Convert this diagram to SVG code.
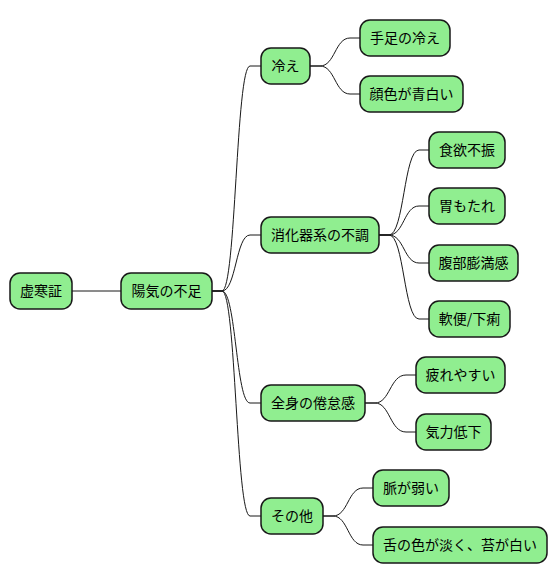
<svg xmlns="http://www.w3.org/2000/svg" width="558" height="583" viewBox="0 0 558 583">
<style>
.n rect{fill:#90EE90;stroke:#181818;stroke-width:1.5}
.n text{font-family:"Noto Sans CJK JP","Noto Sans",sans-serif;font-size:14px;fill:#000;text-anchor:middle}
#edges path{fill:none;stroke:#181818;stroke-width:1}
</style>
<rect width="558" height="583" fill="#fff"/>
<g id="edges">
<path d="M72 291 L121 291"/>
<path d="M212 291 L222 291 C236 291 236 66 250 66 L261 66"/>
<path d="M212 291 L222 291 C236 291 236 235 250 235 L261 235"/>
<path d="M212 291 L222 291 C236 291 236 403 250 403 L261 403"/>
<path d="M212 291 L222 291 C236 291 236 516 250 516 L261 516"/>
<path d="M310 66 L320 66 C335 66 335 38 350 38 L360 38"/>
<path d="M310 66 L320 66 C335 66 335 94 350 94 L360 94"/>
<path d="M379 235 L389 235 C404 235 404 150 419 150 L429 150"/>
<path d="M379 235 L389 235 C404 235 404 206 419 206 L429 206"/>
<path d="M379 235 L389 235 C404 235 404 263 419 263 L429 263"/>
<path d="M379 235 L389 235 C404 235 404 319 419 319 L429 319"/>
<path d="M365 403 L375 403 C390 403 390 375 406 375 L416 375"/>
<path d="M365 403 L375 403 C390 403 390 432 406 432 L416 432"/>
<path d="M323 516 L333 516 C348 516 348 488 363 488 L373 488"/>
<path d="M323 516 L333 516 C348 516 348 545 363 545 L373 545"/>
</g>
<g id="n0" class="n"><rect x="10" y="273" width="62" height="36" rx="10"/><text x="41" y="296">虚寒証</text></g>
<g id="n1" class="n"><rect x="121" y="273" width="91" height="36" rx="10"/><text x="166.5" y="296">陽気の不足</text></g>
<g id="n2" class="n"><rect x="261" y="48" width="49" height="36" rx="10"/><text x="285.5" y="71">冷え</text></g>
<g id="n3" class="n"><rect x="360" y="20" width="90" height="36" rx="10"/><text x="405" y="43">手足の冷え</text></g>
<g id="n4" class="n"><rect x="360" y="76" width="103" height="36" rx="10"/><text x="411.5" y="99">顔色が青白い</text></g>
<g id="n5" class="n"><rect x="261" y="217" width="118" height="36" rx="10"/><text x="320" y="240">消化器系の不調</text></g>
<g id="n6" class="n"><rect x="429" y="132" width="76" height="36" rx="10"/><text x="467" y="155">食欲不振</text></g>
<g id="n7" class="n"><rect x="429" y="188" width="76" height="36" rx="10"/><text x="467" y="211">胃もたれ</text></g>
<g id="n8" class="n"><rect x="429" y="245" width="89" height="36" rx="10"/><text x="473.5" y="268">腹部膨満感</text></g>
<g id="n9" class="n"><rect x="429" y="301" width="81" height="36" rx="10"/><text x="469.5" y="324">軟便/下痢</text></g>
<g id="n10" class="n"><rect x="261" y="385" width="104" height="36" rx="10"/><text x="313" y="408">全身の倦怠感</text></g>
<g id="n11" class="n"><rect x="416" y="357" width="89" height="36" rx="10"/><text x="460.5" y="380">疲れやすい</text></g>
<g id="n12" class="n"><rect x="416" y="414" width="75" height="36" rx="10"/><text x="453.5" y="437">気力低下</text></g>
<g id="n13" class="n"><rect x="261" y="498" width="62" height="36" rx="10"/><text x="292" y="521">その他</text></g>
<g id="n14" class="n"><rect x="373" y="470" width="76" height="36" rx="10"/><text x="411" y="493">脈が弱い</text></g>
<g id="n15" class="n"><rect x="373" y="527" width="174" height="36" rx="10"/><text x="460" y="550">舌の色が淡く、苔が白い</text></g>
</svg>
